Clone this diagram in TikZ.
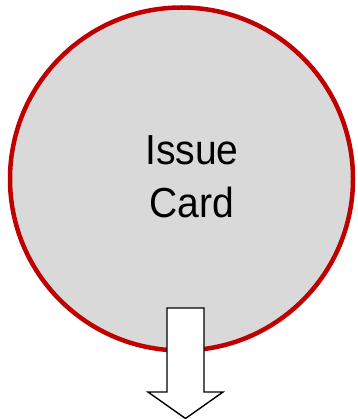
\documentclass[tikz,border=0pt]{standalone}
\usepackage{fontspec}
\setmainfont[FakeStretch=0.93]{Liberation Sans}
\definecolor{ringred}{HTML}{C00000}
\definecolor{discgray}{HTML}{D9D9D9}
\begin{document}
\begin{tikzpicture}[x=1pt,y=-1pt,
  disc/.style={circle,draw=ringred,fill=discgray,line width=4.5pt,minimum size=343pt,inner sep=0pt},
  label/.style={align=center,font=\fontsize{42}{53}\selectfont,inner sep=0pt},
  blockarrow/.style={draw=black,fill=white,line width=1.4pt,line join=miter}]
\useasboundingbox (0,0) rectangle (357,419);
\node[disc] (card) at (181.5,179) {};
\node[label] (txt) at (192,177) {Issue\\Card};
\coordinate (tip) at (185.5,418.5);
\draw[blockarrow] (167,308) -- (204,308) -- (204,392) -- (223,392) -- (tip) -- (148,392) -- (167,392) -- cycle;
\end{tikzpicture}
\end{document}
